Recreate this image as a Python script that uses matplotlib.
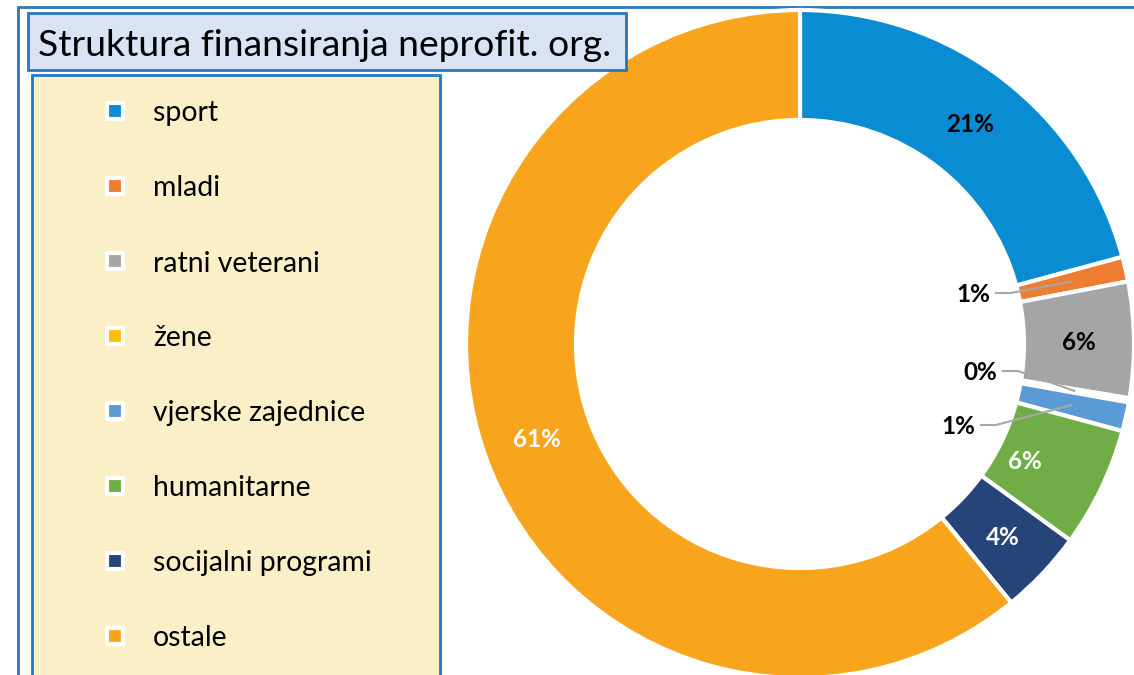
import matplotlib
matplotlib.use("Agg")
import matplotlib.pyplot as plt
from matplotlib.patches import Rectangle
import numpy as np

# ---------------- data ----------------
categories = ['sport', 'mladi', 'ratni veterani', 'žene', 'vjerske zajednice',
              'humanitarne', 'socijalni programi', 'ostale']
shares = [20.8, 1.2, 5.6, 0.2, 1.4, 5.8, 4.1, 60.9]
pct_labels = ['21%', '1%', '6%', '0%', '1%', '6%', '4%', '61%']
colors = ['#0A8CD2', '#ED7D31', '#A5A5A5', '#FFC000', '#5B9BD5',
          '#70AD47', '#264478', '#F8A51D']
title = 'Struktura finansiranja neprofit. org.'

FONT = 'Lato'
W, H = 1134, 675
fig = plt.figure(figsize=(W / 100, H / 100), dpi=100)
ax = fig.add_axes([0, 0, 1, 1])
ax.set_xlim(0, W)
ax.set_ylim(0, H)
ax.set_aspect('equal')
ax.axis('off')
renderer = fig.canvas.get_renderer()


def Y(y):
    return H - y


def fit(txt, target_w, **kw):
    t = ax.text(0, 0, txt, fontsize=20, **kw)
    w = t.get_window_extent(renderer).width
    t.remove()
    return 20 * target_w / w


# outer frame
ax.add_patch(Rectangle((18, -20), 1200, Y(7) + 20, fill=False,
                       ec='#2E75B6', lw=2, zorder=1))

# donut
cx, cy, R, ring = 800, Y(344), 334, 110
wedges, _ = ax.pie(shares, colors=colors, startangle=90, counterclock=False,
                   center=(cx, cy), radius=R, frame=True,
                   wedgeprops=dict(width=ring, edgecolor='white', linewidth=3))
ax.set_xlim(0, W)
ax.set_ylim(0, H)
ax.axis('off')

pct_fs = fit('21%', 48, fontweight='bold', family=FONT)
# index: (text colour, radial shift, angular shift in degrees)
inside = {0: ('black', 0.0, 0.0), 2: ('black', 0.0, 0.0),
          5: ('white', -26, -1.5), 6: ('white', 0.0, 0.0),
          7: ('white', 0.0, 0.0)}
small_pos = {1: (973, 293), 3: (980, 371), 4: (958, 425)}
rmid = R - ring / 2
for i, w in enumerate(wedges):
    mid = (w.theta1 + w.theta2) / 2
    if i in inside:
        col, dr, dth = inside[i]
        r = rmid + dr
        a = np.deg2rad(mid + dth)
        ax.text(cx + r * np.cos(a), cy + r * np.sin(a), pct_labels[i],
                ha='center', va='center_baseline', fontsize=pct_fs,
                fontweight='bold', color=col, family=FONT, zorder=5)
    else:
        a = np.deg2rad(mid)
        px, py = cx + rmid * np.cos(a), cy + rmid * np.sin(a)
        tx, ty = small_pos[i]
        t = ax.text(tx, Y(ty), pct_labels[i], ha='center',
                    va='center_baseline', fontsize=pct_fs, fontweight='bold',
                    color='black', family=FONT, zorder=5)
        bb = t.get_window_extent(renderer)
        x0 = bb.x1 + 5
        ax.plot([x0, x0 + 16, px], [Y(ty), Y(ty), py], color='#A6A6A6',
                lw=1.5, zorder=4, solid_capstyle='butt')

# title box
ax.add_patch(Rectangle((28, Y(70)), 598, 57, fc='#DAE3F3', ec='#2E75B6',
                       lw=2, zorder=6))
tfs = fit(title, 574, family=FONT)
ax.text(38, Y(42), title, fontsize=tfs, family=FONT, ha='left',
        va='center_baseline', color='black', zorder=7)

# legend box
ax.add_patch(Rectangle((32, -20), 408, Y(75) + 20, fc='#FBEFC7', ec='#1F78C8',
                       lw=2, zorder=6))
lfs = fit('vjerske zajednice', 213, family=FONT)
for i, (cat, col) in enumerate(zip(categories, colors)):
    yy = Y(111 + 75 * i)
    ax.scatter([115], [yy], marker='s', s=120, c=[col], edgecolors='white',
               linewidths=3, zorder=7)
    ax.text(153, yy, cat, fontsize=lfs, family=FONT, ha='left',
            va='center_baseline', color='black', zorder=7)

fig.savefig('out.png', dpi=100)
